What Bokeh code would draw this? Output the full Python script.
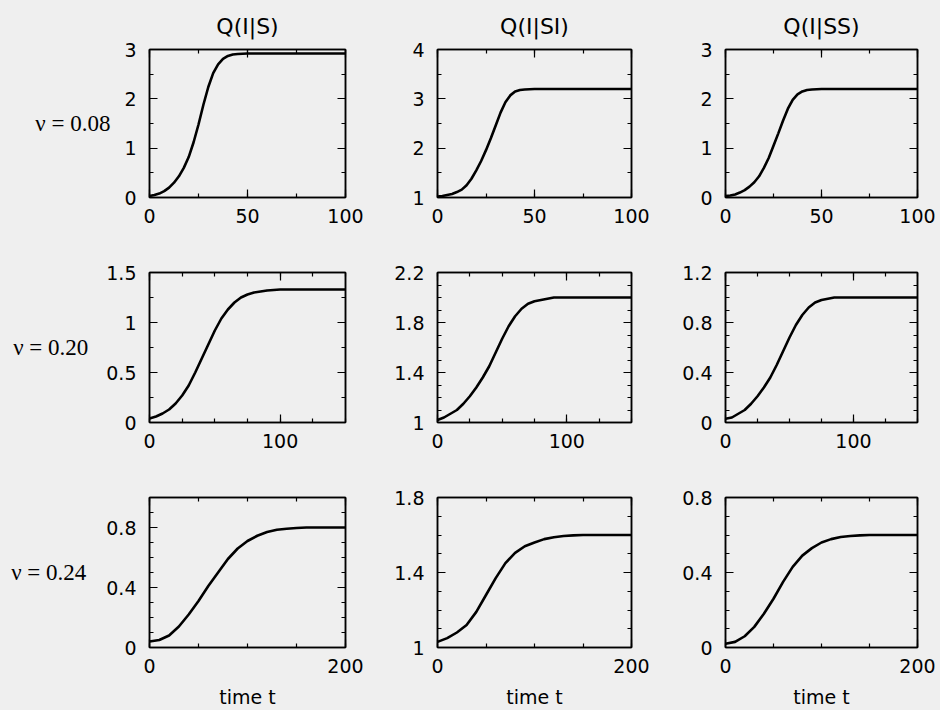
import numpy as np
from bokeh.plotting import figure
from bokeh.layouts import column, row
from bokeh.models import Range1d, LinearAxis, FixedTicker, CustomJSTickFormatter
from bokeh.embed import file_html
from bokeh.resources import INLINE

# ---------------- data ----------------
col_titles = ["Q(I|S)", "Q(I|SI)", "Q(I|SS)"]
row_labels = ["\u03bd = 0.08", "\u03bd = 0.20", "\u03bd = 0.24"]
x_label = "time t"

# row 1: nu = 0.08
t_nu008 = [0, 2.5, 5, 7.5, 10, 12.5, 15, 17.5, 20, 22.5, 25, 27.5, 30, 32.5, 35,
           37.5, 40, 42.5, 45, 50, 55, 60, 70, 80, 90, 100]
q_is_nu008 = [0.03, 0.05, 0.08, 0.13, 0.20, 0.30, 0.43, 0.60, 0.82, 1.12, 1.48, 1.88,
              2.24, 2.52, 2.70, 2.81, 2.87, 2.90, 2.91, 2.92, 2.92, 2.92, 2.92, 2.92, 2.92, 2.92]
q_isi_nu008 = [1.02, 1.03, 1.05, 1.07, 1.11, 1.16, 1.25, 1.38, 1.55, 1.74, 1.96, 2.20,
               2.46, 2.72, 2.93, 3.07, 3.15, 3.18, 3.19, 3.20, 3.20, 3.20, 3.20, 3.20, 3.20, 3.20]
q_iss_nu008 = [0.03, 0.04, 0.06, 0.10, 0.15, 0.22, 0.31, 0.43, 0.60, 0.80, 1.05, 1.30,
               1.56, 1.80, 1.98, 2.09, 2.15, 2.18, 2.19, 2.20, 2.20, 2.20, 2.20, 2.20, 2.20, 2.20]

# row 2: nu = 0.20
t_nu020 = [0, 5, 10, 15, 20, 25, 30, 35, 40, 45, 50, 55, 60, 65, 70, 75, 80, 85, 90,
           100, 110, 120, 130, 140, 150]
q_is_nu020 = [0.04, 0.06, 0.09, 0.13, 0.19, 0.27, 0.37, 0.50, 0.64, 0.78, 0.92, 1.04,
              1.13, 1.20, 1.25, 1.28, 1.30, 1.31, 1.32, 1.33, 1.33, 1.33, 1.33, 1.33, 1.33]
q_isi_nu020 = [1.02, 1.04, 1.07, 1.10, 1.15, 1.21, 1.28, 1.36, 1.45, 1.56, 1.67, 1.77,
               1.85, 1.91, 1.95, 1.97, 1.98, 1.99, 2.00, 2.00, 2.00, 2.00, 2.00, 2.00, 2.00]
q_iss_nu020 = [0.03, 0.04, 0.07, 0.10, 0.15, 0.21, 0.28, 0.36, 0.46, 0.57, 0.68, 0.78,
               0.86, 0.92, 0.96, 0.98, 0.99, 1.00, 1.00, 1.00, 1.00, 1.00, 1.00, 1.00, 1.00]

# row 3: nu = 0.24
t_nu024 = [0, 10, 20, 30, 40, 50, 60, 70, 80, 90, 100, 110, 120, 130, 140, 150,
           160, 170, 180, 190, 200]
q_is_nu024 = [0.04, 0.05, 0.08, 0.14, 0.22, 0.31, 0.41, 0.50, 0.59, 0.66, 0.71, 0.745,
              0.77, 0.785, 0.792, 0.797, 0.80, 0.80, 0.80, 0.80, 0.80]
q_isi_nu024 = [1.03, 1.05, 1.08, 1.12, 1.19, 1.28, 1.37, 1.45, 1.505, 1.54, 1.56, 1.578,
               1.588, 1.595, 1.598, 1.60, 1.60, 1.60, 1.60, 1.60, 1.60]
q_iss_nu024 = [0.02, 0.03, 0.06, 0.11, 0.18, 0.26, 0.35, 0.43, 0.49, 0.53, 0.56, 0.578,
               0.589, 0.595, 0.598, 0.60, 0.60, 0.60, 0.60, 0.60, 0.60]

# axis ranges and tick labels
x_range_rows = [(0, 100), (0, 150), (0, 200)]
x_ticks_rows = [[0, 50, 100], [0, 100], [0, 200]]
x_minor_step_rows = [25, 25, 50]

y_ranges = [[(0, 3), (1, 4), (0, 3)],
            [(0, 1.5), (1, 2.2), (0, 1.2)],
            [(0, 1.0), (1, 1.8), (0, 0.8)]]
y_ticks = [[[0, 1, 2, 3], [1, 2, 3, 4], [0, 1, 2, 3]],
           [[0, 0.5, 1, 1.5], [1, 1.4, 1.8, 2.2], [0, 0.4, 0.8, 1.2]],
           [[0, 0.4, 0.8], [1, 1.4, 1.8], [0, 0.4, 0.8]]]
y_minor_steps = [[0.5, 0.5, 0.5], [0.25, 0.1, 0.1], [0.1, 0.1, 0.1]]

times = [t_nu008, t_nu020, t_nu024]
series = [[q_is_nu008, q_isi_nu008, q_iss_nu008],
          [q_is_nu020, q_isi_nu020, q_iss_nu020],
          [q_is_nu024, q_isi_nu024, q_iss_nu024]]

# ---------------- layout / style ----------------
BG = "#efefef"
TICK_FONT = "DejaVu Sans"
col_left = [149, 51, 50]
col_frame = [196, 194, 192]
col_right = [41, 44, 23]
row_top = [47, 30, 30]
row_frame = [150, 150, 150]
row_bottom = [45, 45, 63]
row_label_standoff = [11, 15, 17]

fmt_code = "return String(parseFloat(tick.toFixed(3)));"
blank_code = "return '';"


def minor_list(lo, hi, step):
    n = int(round((hi - lo) / step))
    return [round(lo + i * step, 6) for i in range(n + 1)]


def style_axis(ax, labels=True):
    ax.axis_line_color = "black"
    ax.axis_line_width = 1.5
    ax.major_tick_in = 8
    ax.major_tick_out = 0
    ax.minor_tick_in = 4
    ax.minor_tick_out = 0
    ax.major_tick_line_color = "black"
    ax.minor_tick_line_color = "black"
    ax.major_tick_line_width = 1.2
    ax.minor_tick_line_width = 1.2
    ax.major_label_text_font = TICK_FONT
    ax.major_label_text_font_size = "19px"
    ax.major_label_text_color = "black"
    ax.axis_label_text_color = "black"
    if not labels:
        ax.major_label_standoff = 0


rows = []
for r in range(3):
    figs = []
    for c in range(3):
        xr = x_range_rows[r]
        yr = y_ranges[r][c]
        p = figure(width=col_left[c] + col_frame[c] + col_right[c],
                   height=row_top[r] + row_frame[r] + row_bottom[r],
                   x_range=Range1d(*xr), y_range=Range1d(*yr),
                   x_axis_type=None, y_axis_type=None,
                   output_backend="svg", toolbar_location=None,
                   min_border_left=col_left[c], min_border_right=col_right[c],
                   min_border_top=row_top[r], min_border_bottom=row_bottom[r],
                   background_fill_color=BG, border_fill_color=BG,
                   styles={"background-color": BG})
        p.outline_line_color = "black"
        p.outline_line_width = 1.5

        xt = FixedTicker(ticks=x_ticks_rows[r],
                         minor_ticks=minor_list(xr[0], xr[1], x_minor_step_rows[r]))
        yt = FixedTicker(ticks=y_ticks[r][c],
                         minor_ticks=minor_list(yr[0], yr[1], y_minor_steps[r][c]))

        xb = LinearAxis(ticker=xt, formatter=CustomJSTickFormatter(code=fmt_code))
        style_axis(xb)
        xb.major_label_standoff = 11
        if r == 2:
            xb.axis_label = x_label
            xb.axis_label_text_font = TICK_FONT
            xb.axis_label_text_font_size = "19px"
            xb.axis_label_text_font_style = "normal"
            xb.axis_label_standoff = 10
        p.add_layout(xb, "below")

        yl = LinearAxis(ticker=yt, formatter=CustomJSTickFormatter(code=fmt_code))
        style_axis(yl)
        yl.major_label_standoff = 13
        if c == 0:
            yl.axis_label = row_labels[r]
            yl.axis_label_orientation = "horizontal"
            yl.axis_label_text_font = "Liberation Serif"
            yl.axis_label_text_font_size = "23px"
            yl.axis_label_text_font_style = "normal"
            yl.axis_label_standoff = row_label_standoff[r]
        p.add_layout(yl, "left")

        xa = LinearAxis(ticker=xt, formatter=CustomJSTickFormatter(code=blank_code))
        style_axis(xa, labels=False)
        p.add_layout(xa, "above")
        yrgt = LinearAxis(ticker=yt, formatter=CustomJSTickFormatter(code=blank_code))
        style_axis(yrgt, labels=False)
        p.add_layout(yrgt, "right")

        if r == 0:
            p.title.text = col_titles[c]
            p.title.align = "center"
            p.title.text_font = TICK_FONT
            p.title.text_font_size = "22px"
            p.title.text_font_style = "normal"
            p.title.text_color = "black"
            p.title.standoff = 22

        p.line(times[r], series[r][c], line_color="black", line_width=2.6)
        figs.append(p)
    rows.append(row(*figs, spacing=0, styles={"background-color": BG}))

layout = column(*rows, spacing=0, styles={"background-color": BG})
open("out.html", "w").write(file_html(layout, INLINE))
